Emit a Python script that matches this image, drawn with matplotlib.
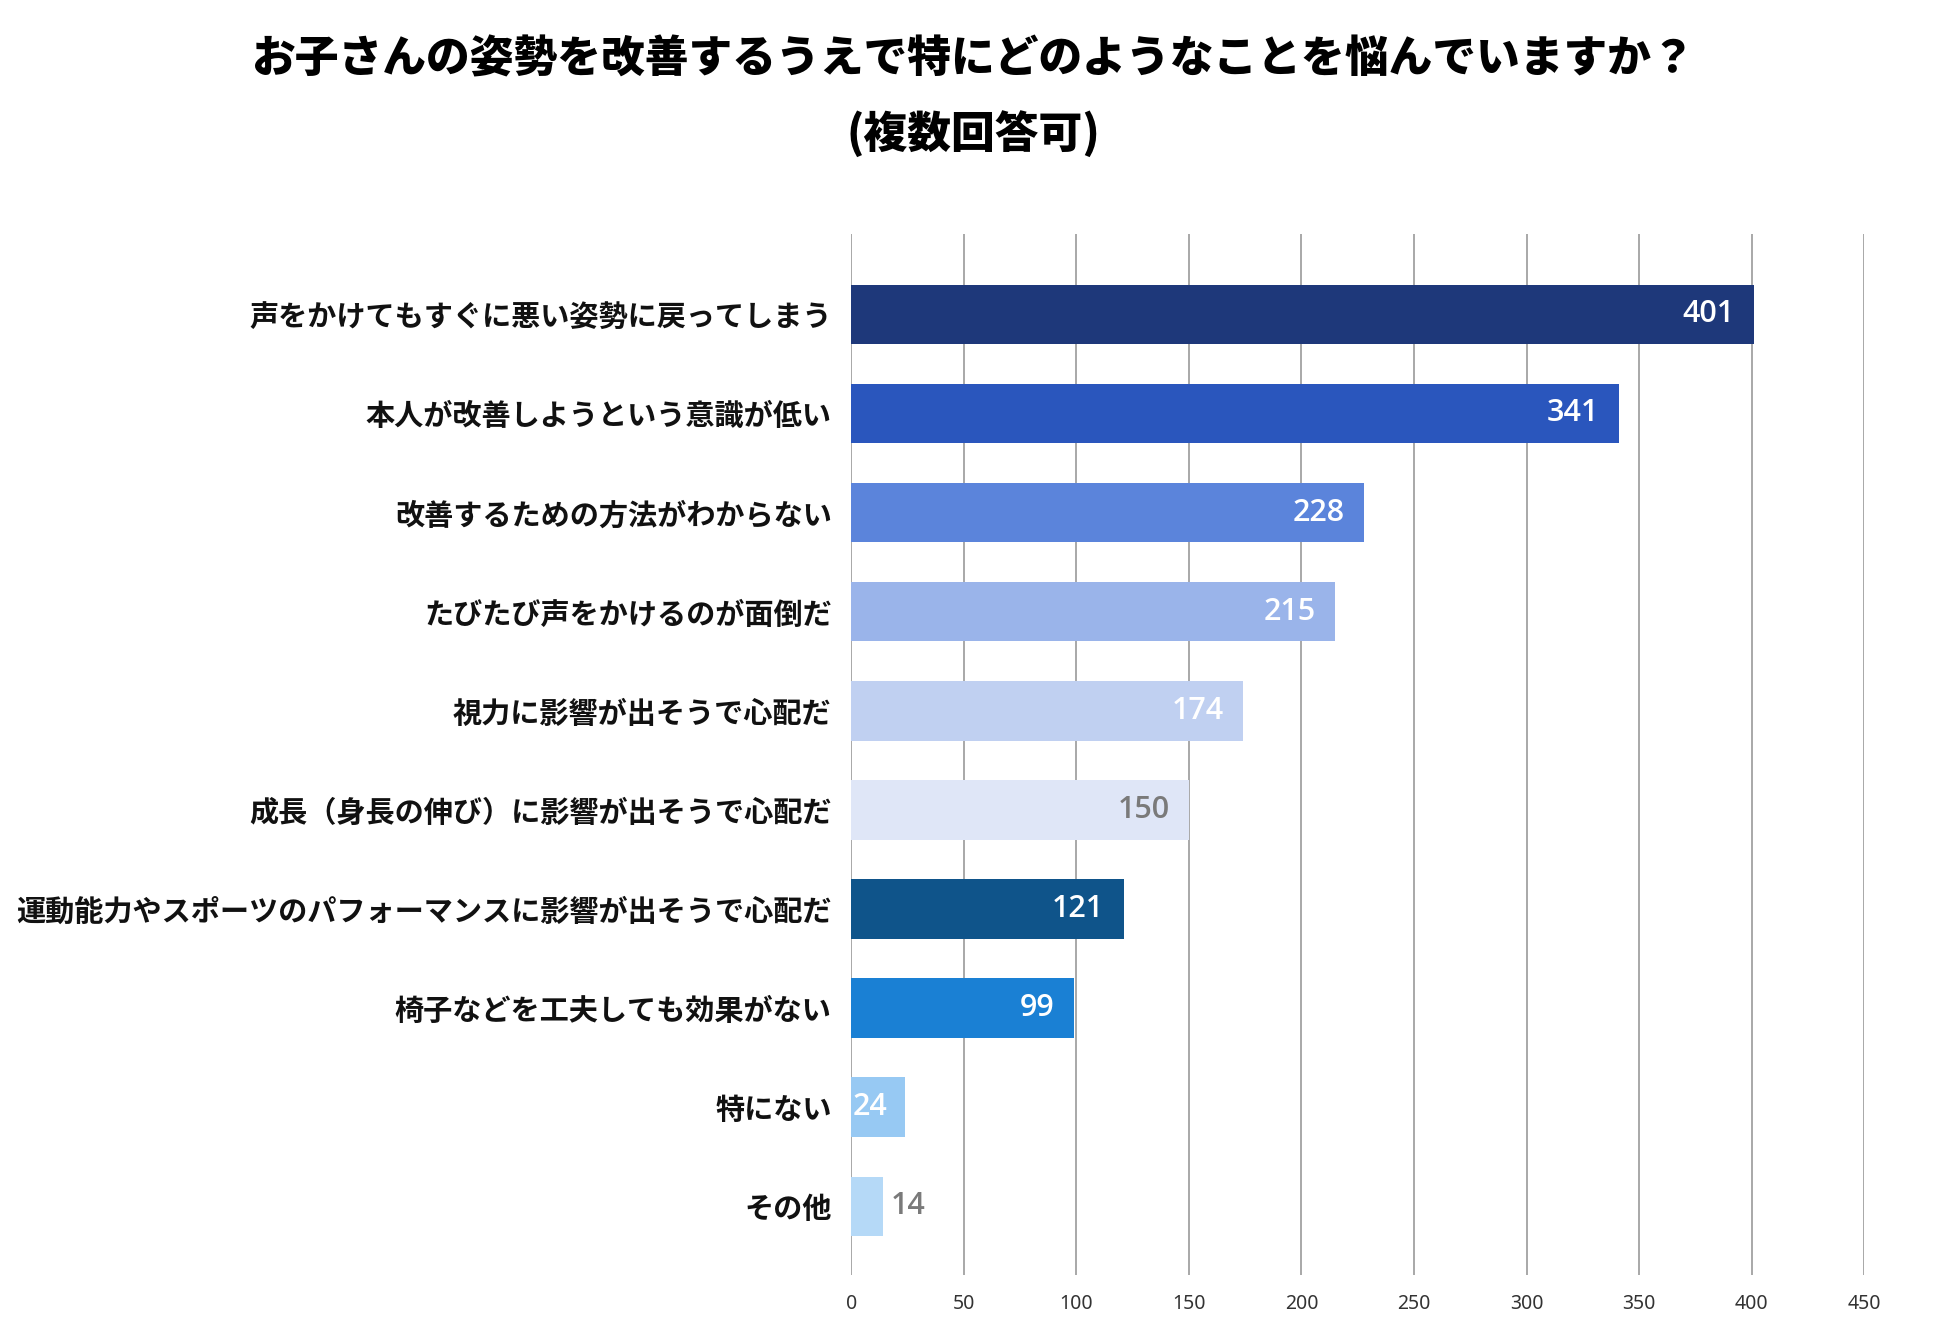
import numpy as np
import matplotlib.pyplot as plt

plt.rcParams['font.family'] = ['Noto Sans CJK JP', 'DejaVu Sans']

# データ
categories = [
    '声をかけてもすぐに悪い姿勢に戻ってしまう',
    '本人が改善しようという意識が低い',
    '改善するための方法がわからない',
    'たびたび声をかけるのが面倒だ',
    '視力に影響が出そうで心配だ',
    '成長（身長の伸び）に影響が出そうで心配だ',
    '運動能力やスポーツのパフォーマンスに影響が出そうで心配だ',
    '椅子などを工夫しても効果がない',
    '特にない',
    'その他',
]
values = [401, 341, 228, 215, 174, 150, 121, 99, 24, 14]
xticks = [0, 50, 100, 150, 200, 250, 300, 350, 400, 450]

# 色
bar_colors = ['#1e387a', '#2a56bd', '#5b84db', '#9ab4ea', '#c0d0f1',
              '#dfe6f7', '#0f548a', '#1a80d4', '#97c9f3', '#b5d9f7']
label_colors = ['white', 'white', 'white', 'white', 'white',
                '#7a7a7a', 'white', 'white', 'white', '#7a7a7a']

fig = plt.figure(figsize=(19.5, 13.39), dpi=100)
ax = fig.add_axes([0.4365, 0.048, 0.5195, 0.777])

y = np.arange(len(categories))
ax.barh(y, values, height=0.6, color=bar_colors, zorder=3)

ax.set_xlim(0, 450)
ax.set_ylim(len(categories) - 0.31, -0.807)
ax.set_xticks(xticks)
ax.set_xticklabels([str(t) for t in xticks], fontsize=14, color='#333333',
                   family=['Noto Sans', 'DejaVu Sans'])
ax.tick_params(axis='x', length=0, pad=14)
ax.set_yticks(y)
ax.set_yticklabels(categories, fontsize=21, fontweight='bold', color='#111111')
ax.tick_params(axis='y', length=0, pad=14)
ax.grid(axis='x', color='#9a9a9a', linewidth=1.2, zorder=0)
for s in ax.spines.values():
    s.set_visible(False)

# 値ラベル
vfont = dict(fontsize=22, family=['Open Sans', 'DejaVu Sans'], fontweight='semibold')
for i, v in enumerate(values):
    if v < 20:
        ax.annotate(str(v), (v, i), xytext=(6, 0), textcoords='offset points',
                    ha='left', va='center', color=label_colors[i], **vfont)
    elif v < 50:
        ax.annotate(str(v), (0, i), xytext=(1, 0), textcoords='offset points',
                    ha='left', va='center', color=label_colors[i], **vfont)
    else:
        ax.annotate(str(v), (v, i), xytext=(-14, 0), textcoords='offset points',
                    ha='right', va='center', color=label_colors[i], **vfont)

fig.text(0.499, 0.956, 'お子さんの姿勢を改善するうえで特にどのようなことを悩んでいますか？',
         ha='center', va='center', fontsize=31.5, fontweight='heavy')
fig.text(0.499, 0.90, '(複数回答可)', ha='center', va='center',
         fontsize=31.5, fontweight='heavy')

fig.savefig('out.png', dpi=100, facecolor='white')
